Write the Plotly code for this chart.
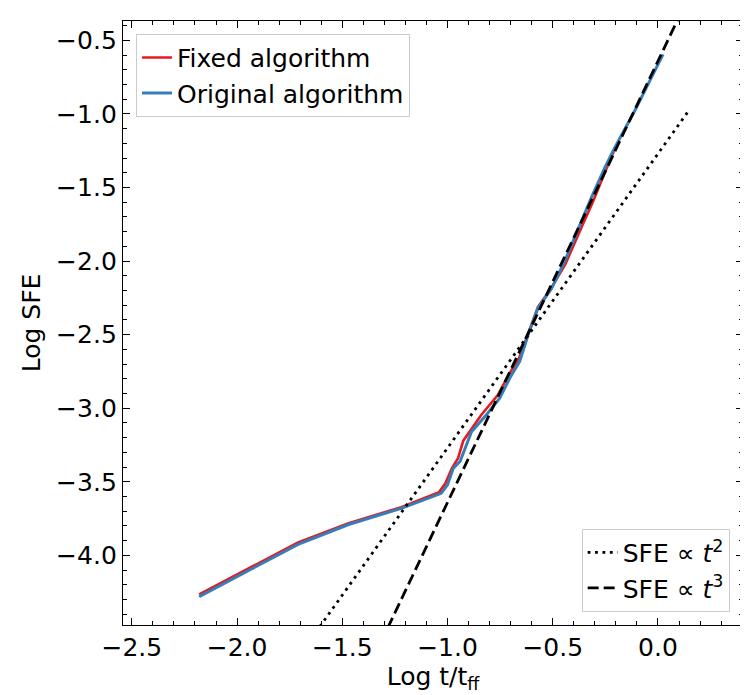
import plotly.graph_objects as go

orig_x = [-2.18, -1.95, -1.71, -1.47, -1.22, -1.03, -1.00, -0.973, -0.94, -0.886,
          -0.815, -0.752, -0.704, -0.657, -0.617, -0.570, -0.507, -0.443, -0.364,
          -0.317, -0.253, -0.206, -0.111, 0.024]
orig_y = [-4.28, -4.105, -3.925, -3.79, -3.68, -3.578, -3.52, -3.41, -3.36, -3.16,
          -3.044, -2.931, -2.795, -2.681, -2.50, -2.318, -2.19, -2.00, -1.729,
          -1.570, -1.366, -1.230, -0.980, -0.595]

fixed_x = [-2.18, -1.95, -1.71, -1.47, -1.22, -1.04, -1.01, -0.98, -0.95, -0.925,
           -0.894, -0.839, -0.76, -0.704, -0.66, -0.617, -0.57, -0.51, -0.44,
           -0.36, -0.31, -0.25, -0.206]
fixed_y = [-4.265, -4.09, -3.912, -3.782, -3.672, -3.57, -3.51, -3.41, -3.339, -3.22,
           -3.157, -3.044, -2.908, -2.76, -2.66, -2.49, -2.31, -2.19, -2.02,
           -1.76, -1.60, -1.39, -1.241]

# reference power laws, end points only
ref_x = [-2.2, 0.15]
t2_y = [-5.67, -0.97]
t3_y = [-7.24, -0.19]

# tick labels (real minus sign like matplotlib)
xtick_vals = [-2.5, -2.0, -1.5, -1.0, -0.5, 0.0]
xtick_text = ["−2.5", "−2.0", "−1.5", "−1.0", "−0.5", "0.0"]
ytick_vals = [-4.0, -3.5, -3.0, -2.5, -2.0, -1.5, -1.0, -0.5]
ytick_text = ["−4.0", "−3.5", "−3.0", "−2.5", "−2.0", "−1.5", "−1.0", "−0.5"]

font = "DejaVu Sans"

fig = go.Figure()
fig.add_trace(go.Scatter(x=fixed_x, y=fixed_y, mode="lines", name="Fixed algorithm",
                         line=dict(color="#e41a1c", width=2.6), legend="legend"))
fig.add_trace(go.Scatter(x=orig_x, y=orig_y, mode="lines", name="Original algorithm",
                         line=dict(color="#377eb8", width=3), legend="legend"))
fig.add_trace(go.Scatter(x=ref_x, y=t2_y, mode="lines", name="SFE ∝ <i>t</i><sup>2</sup>",
                         line=dict(color="black", width=2.8, dash="2.8px,4.6px"),
                         legend="legend2"))
fig.add_trace(go.Scatter(x=ref_x, y=t3_y, mode="lines", name="SFE ∝ <i>t</i><sup>3</sup>",
                         line=dict(color="black", width=2.8, dash="11px,5px"),
                         legend="legend2"))

axis_style = dict(
    showline=True, linecolor="black", linewidth=1.4, mirror="allticks",
    ticks="inside", ticklen=7, tickwidth=1.4, tickcolor="black",
    showgrid=False, zeroline=False, tickmode="array",
    tickfont=dict(family=font, size=25, color="black"),
    minor=dict(ticks="inside", ticklen=4, tickwidth=1.2, tickcolor="black",
               tickmode="linear", tick0=0, dtick=0.1, showgrid=False),
)

fig.update_xaxes(range=[-2.542, 0.404], tickvals=xtick_vals, ticktext=xtick_text,
                 title=dict(text="Log t/t<sub>ff</sub>", font=dict(family=font, size=25, color="black"),
                            standoff=6),
                 **axis_style)
fig.update_yaxes(range=[-4.473, -0.368], tickvals=ytick_vals, ticktext=ytick_text,
                 title=dict(text="Log SFE", font=dict(family=font, size=25, color="black"),
                            standoff=8),
                 **axis_style)

legend_style = dict(bgcolor="white", bordercolor="#cccccc", borderwidth=1,
                    font=dict(family=font, size=25, color="black"), tracegroupgap=0)

fig.update_layout(
    width=748, height=695,
    margin=dict(l=115, r=13, t=13, b=78),
    plot_bgcolor="white", paper_bgcolor="white",
    legend=dict(x=0.021, y=0.979, xanchor="left", yanchor="top", **legend_style),
    legend2=dict(x=0.9785, y=0.022, xanchor="right", yanchor="bottom", **legend_style),
)

fig.write_html("out.html")
